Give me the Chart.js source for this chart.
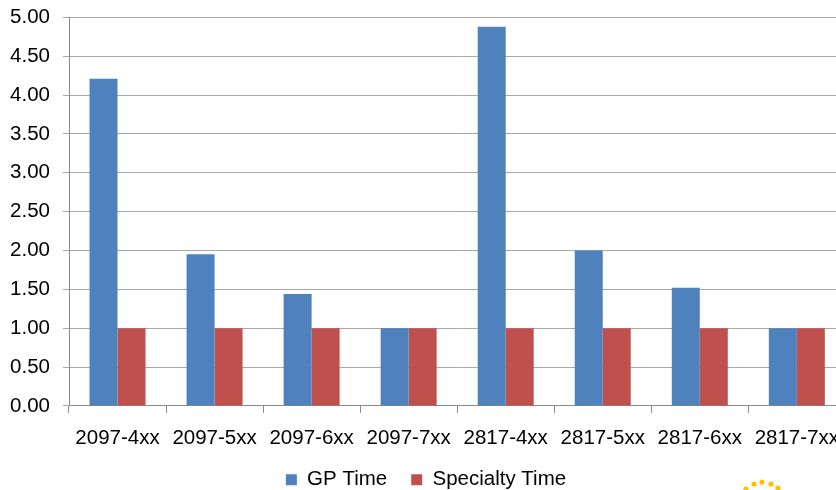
<!DOCTYPE html>
<html>
<head>
<meta charset="utf-8">
<script src="https://cdn.jsdelivr.net/npm/chart.js@4.4.1/dist/chart.umd.min.js"></script>
<style>
  html, body { margin: 0; padding: 0; background: #fff; overflow: hidden; }
  #wrap { position: relative; width: 852px; height: 508px; margin-top: -8px; }
</style>
</head>
<body>
<div id="wrap"><canvas id="chart"></canvas></div>
<script>
// chart data
const CATEGORIES = ['2097-4xx', '2097-5xx', '2097-6xx', '2097-7xx', '2817-4xx', '2817-5xx', '2817-6xx', '2817-7xx'];
const GP_TIME = [4.21, 1.95, 1.44, 1.00, 4.88, 2.00, 1.52, 1.00];
const SPECIALTY_TIME = [1.00, 1.00, 1.00, 1.00, 1.00, 1.00, 1.00, 1.00];

const FONT = { family: '"Liberation Sans", Arial, sans-serif', size: 20.5 };
const GRID = '#a8a8a8';
const AXIS = '#8a8a8a';

// little yellow logo fragment in the bottom right corner
const cornerDots = {
    id: 'cornerDots',
    afterDraw(chart){
        const ctx = chart.ctx;
        ctx.save();
        ctx.fillStyle = '#ffc000';
        [[746, 497], [754, 492], [762, 490], [771, 492], [778, 496]].forEach(([x, y]) => {
            ctx.beginPath(); ctx.arc(x, y, 2.6, 0, Math.PI * 2); ctx.fill();
        });
        ctx.restore();
    }
};

new Chart(document.getElementById('chart'), {
    type: 'bar',
    data: {
        labels: CATEGORIES,
        datasets: [
            { label: 'GP Time', data: GP_TIME, backgroundColor: '#4f81bd' },
            { label: 'Specialty Time', data: SPECIALTY_TIME, backgroundColor: '#c0504d' }
        ]
    },
    options: {
        responsive: true,
        maintainAspectRatio: false,
        animation: false,
        devicePixelRatio: 1,
        layout: { padding: { top: 0, left: 0, right: 0, bottom: 0 } },
        datasets: { bar: { barPercentage: 1, categoryPercentage: 0.577 } },
        plugins: {
            tooltip: { enabled: false },
            legend: {
                position: 'bottom',
                labels: { font: FONT, color: '#000', boxWidth: 11, boxHeight: 11, padding: 24 }
            }
        },
        scales: {
            x: {
                afterFit: s => { s.height -= 18; },
                grid: { display: true, drawOnChartArea: false, offset: true, tickLength: 7, color: AXIS },
                border: { color: AXIS },
                ticks: { font: FONT, color: '#000', padding: 13, maxRotation: 0, autoSkip: false }
            },
            y: {
                min: 0, max: 5,
                afterFit: s => { s.width = 69; },
                grid: { color: GRID, tickLength: 6 },
                border: { color: AXIS },
                ticks: { stepSize: 0.5, font: FONT, color: '#000', padding: 13, callback: v => v.toFixed(2) }
            }
        }
    },
    plugins: [cornerDots]
});
</script>
</body>
</html>
